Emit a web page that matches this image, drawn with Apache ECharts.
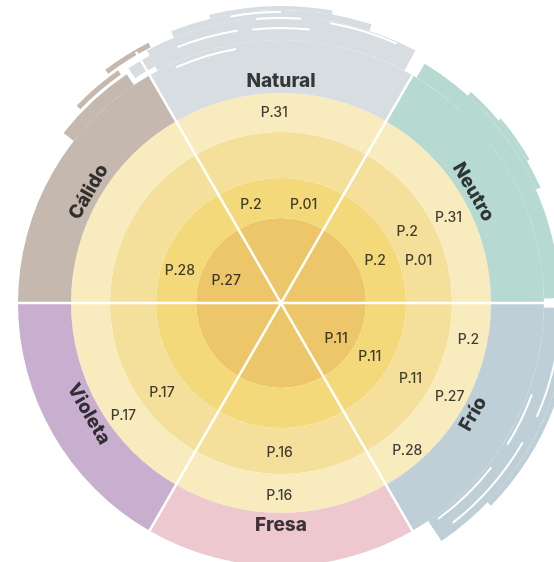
<!DOCTYPE html>
<html><head><meta charset="utf-8">
<script src="https://cdn.jsdelivr.net/npm/echarts@6/dist/echarts.min.js"></script>
<style>html,body{margin:0;padding:0;background:#fff}#c{width:554px;height:562px}</style>
</head><body><div id="c"></div>
<script>
// ---- data ----
const categories = ['Natural', 'Neutro', 'Frío', 'Fresa', 'Violeta', 'Cálido'];
const categoryAngles = [90, 30, 330, 270, 210, 150];
const categoryRotate = [0, -60, 60, 0, -60, 60];
const categoryColors = ['#d8dde1', '#b6d9d2', '#bfcfd7', '#eec8cf', '#c9afcf', '#c5b9af'];
const ringEdges = [0, 85, 125, 171, 210, 263];
const ringColors = ['#edc669', '#f4d97a', '#f5e09b', '#f8ecbf'];
const codeLabels = ['P.31', 'P.2', 'P.01', 'P.31', 'P.2', 'P.01', 'P.2', 'P.2', 'P.27', 'P.28', 'P.11', 'P.11', 'P.11', 'P.16', 'P.16', 'P.17', 'P.17', 'P.28', 'P.27'];
const codeRadius = [190, 103, 101, 188, 145, 144, 103, 191, 193, 194, 150, 104, 66, 150, 193, 149, 194, 106, 59];
const codeAngle = [92, 107, 77, 27, 29.5, 17, 24, 349, 331, 310.6, 329.7, 328.6, 326.7, 269.5, 269.5, 217, 215.7, 162.4, 158];
// decorative brush strokes: [r0, r1, a0, a1, colour index (-1 = white gap)]
const brushStrokes = [
  [263, 286, 62, 118, 0], [286, 293, 72, 112, 0], [293, 297, 80, 104, 0], [268, 280, 118, 123, 0],
  [274, 276, 84, 96, -1], [275, 277, 99, 112, -1], [283, 285, 66, 80, -1], [284, 286, 86, 95, -1],
  [257, 259, 100, 114, -1], [290, 292, 90, 100, -1],
  [263, 279, 1, 59, 1], [279, 284, 24, 48, 1], [284, 287, 30, 40, 1],
  [263, 287, 304, 359, 2], [287, 292, 316, 345, 2],
  [266, 268, 306, 322, -1], [266, 268, 328, 340, -1], [278, 280, 308, 330, -1], [279, 281, 336, 352, -1],
  [263, 276, 124, 142, 5], [279, 284, 125, 136, 5], [287, 292, 117, 127, 5]
];

// ---- build ----
const ringSeries = [];
for (let i = 0; i < ringEdges.length - 1; i++) {
  const thick = ringEdges[i + 1] - ringEdges[i];
  const isOuter = i === ringEdges.length - 2;
  ringSeries.push({
    type: 'bar', coordinateSystem: 'polar', polarIndex: 0, stack: 'rings',
    barCategoryGap: '0%', silent: true, z: 2,
    data: categories.map((c, k) => ({
      value: thick,
      itemStyle: { color: isOuter ? categoryColors[k] : ringColors[i] }
    }))
  });
}

const brushSeries = {
  type: 'custom', coordinateSystem: 'polar', polarIndex: 1, silent: true, z: 3,
  data: brushStrokes,
  renderItem: function (params, api) {
    const cs = params.coordSys;
    const p0 = api.coord([api.value(0), api.value(2)]);
    const p1 = api.coord([api.value(1), api.value(2)]);
    const r0 = Math.hypot(p0[0] - cs.cx, p0[1] - cs.cy);
    const r1 = Math.hypot(p1[0] - cs.cx, p1[1] - cs.cy);
    const a0 = api.value(2) * Math.PI / 180, a1 = api.value(3) * Math.PI / 180;
    const ci = api.value(4);
    return {
      type: 'sector',
      shape: { cx: cs.cx, cy: cs.cy, r0: r0, r: r1, startAngle: -a1, endAngle: -a0, clockwise: true },
      style: { fill: ci < 0 ? '#ffffff' : categoryColors[ci] }
    };
  }
};

const codeSeries = {
  type: 'scatter', coordinateSystem: 'polar', polarIndex: 1, silent: true, z: 6,
  symbolSize: 0,
  data: codeLabels.map((t, i) => ({ name: t, value: [codeRadius[i], codeAngle[i]] })),
  label: {
    show: true, position: 'inside', formatter: '{b}',
    fontFamily: 'Inter', fontSize: 14, fontWeight: 500, color: '#111111'
  }
};

const catSeries = {
  type: 'scatter', coordinateSystem: 'polar', polarIndex: 1, silent: true, z: 6,
  symbolSize: 0,
  data: categories.map((c, i) => ({
    name: c, value: [222, categoryAngles[i]],
    label: { rotate: categoryRotate[i] }
  })),
  label: {
    show: true, position: 'inside', formatter: '{b}',
    fontFamily: 'Inter', fontSize: 19, fontWeight: 800, color: '#0d0d0d'
  }
};

const chart = echarts.init(document.getElementById('c'), null, { renderer: 'canvas' });
chart.setOption({
  animation: false,
  backgroundColor: '#ffffff',
  polar: [
    { center: [281, 303], radius: 290 },
    { center: [281, 303], radius: 300 }
  ],
  angleAxis: [
    {
      polarIndex: 0, type: 'category', data: categories, startAngle: 120, clockwise: true,
      boundaryGap: true, z: 10,
      axisLine: { show: false }, axisTick: { show: false }, axisLabel: { show: false },
      splitLine: { show: true, lineStyle: { color: '#ffffff', width: 2.5 } }
    },
    {
      polarIndex: 1, type: 'value', min: 0, max: 360, startAngle: 0, clockwise: false,
      show: false
    }
  ],
  radiusAxis: [
    { polarIndex: 0, type: 'value', min: 0, max: 290, show: false },
    { polarIndex: 1, type: 'value', min: 0, max: 300, show: false }
  ],
  series: ringSeries.concat([brushSeries, codeSeries, catSeries])
});
</script>
</body></html>
